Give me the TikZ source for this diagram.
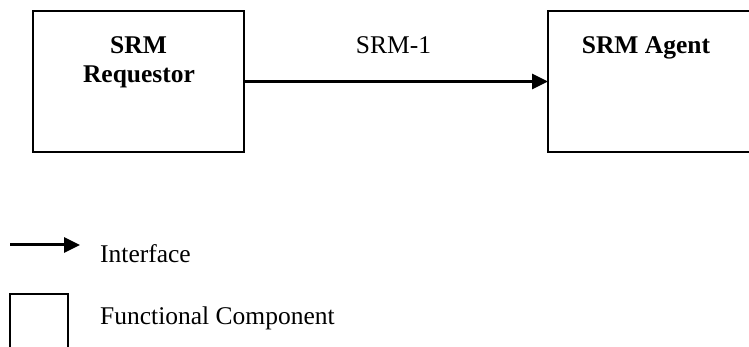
\documentclass[tikz,border=0pt]{standalone}
\usepackage{fontspec}
\setmainfont{Liberation Serif}
\usetikzlibrary{arrows.meta}

\tikzset{
  comp/.style={draw=black, line width=1.5pt, fill=none, inner sep=0pt, outer sep=0pt},
  txt/.style={inner sep=0pt, font=\fontsize{25.5}{29}\selectfont},
  btxt/.style={txt, font=\fontsize{25.5}{29}\selectfont\bfseries},
  iface/.style={line width=3pt, -{Triangle[length=16pt,width=15pt]}}
}

\begin{document}
\begin{tikzpicture}[x=1pt, y=-1pt]
  \useasboundingbox (0,0) rectangle (749,347);
  \clip (0,0) rectangle (749,347);

  % functional components
  \node[comp, minimum width=211pt, minimum height=141pt] (req) at (138.5,81.5) {};
  \node[comp, minimum width=250pt, minimum height=141pt] (agent) at (673,81.5) {};

  \node[btxt, anchor=base] (reqA) at (138.5,54) {SRM};
  \node[btxt, anchor=base] (reqB) at (139,83) {Requestor};
  \node[btxt, anchor=base] (agentT) at (646,54) {SRM Agent};

  % interface SRM-1
  \draw[iface] (req.east) -- (agent.west);
  \node[txt, anchor=base] (ifname) at (393.5,54) {SRM-1};

  % legend
  \coordinate (legA) at (10,245);
  \coordinate (legB) at (80,245);
  \draw[iface] (legA) -- (legB);
  \node[txt, anchor=base west] (legIface) at (100,262) {Interface};

  \node[comp, minimum width=58pt, minimum height=80pt] (legBox) at (39,334) {};
  \node[txt, anchor=base west] (legComp) at (100,324) {Functional Component};
\end{tikzpicture}
\end{document}
